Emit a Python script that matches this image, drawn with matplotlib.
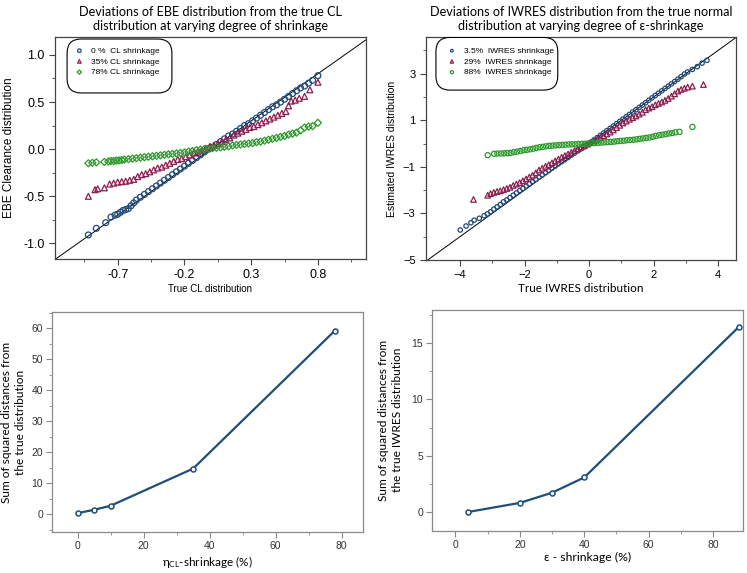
import matplotlib
matplotlib.use("Agg")
import matplotlib.pyplot as plt
from matplotlib.patches import FancyBboxPatch
from matplotlib.ticker import MultipleLocator

plt.rcParams["font.family"] = ["Liberation Sans", "DejaVu Sans"]
plt.rcParams["mathtext.fontset"] = "custom"
plt.rcParams["mathtext.rm"] = "Lato"
plt.rcParams["mathtext.it"] = "Lato:italic"

LABEL_FONT = ["Lato", "DejaVu Sans"]

# --- QQ data: EBE clearance vs true CL distribution ---
cl_labels = ["0 %  CL shrinkage", "35% CL shrinkage", "78% CL shrinkage"]

cl_x_0 = [-0.92, -0.86, -0.79, -0.75, -0.72, -0.70, -0.68, -0.66, -0.64, -0.62, -0.60, -0.58,
          -0.56, -0.53, -0.50, -0.47, -0.44, -0.41, -0.38, -0.35, -0.32, -0.29, -0.26, -0.23,
          -0.20, -0.17, -0.14, -0.11, -0.08, -0.05, -0.02, 0.01, 0.04, 0.07, 0.10, 0.13, 0.16,
          0.19, 0.22, 0.25, 0.28, 0.31, 0.34, 0.37, 0.40, 0.43, 0.46, 0.49, 0.52, 0.55, 0.58,
          0.61, 0.64, 0.67, 0.70, 0.73, 0.76, 0.80]
cl_y_0 = [-0.91, -0.84, -0.78, -0.72, -0.70, -0.69, -0.67, -0.65, -0.64, -0.63, -0.60, -0.57,
          -0.54, -0.51, -0.48, -0.45, -0.42, -0.39, -0.36, -0.33, -0.30, -0.27, -0.24, -0.21,
          -0.18, -0.15, -0.12, -0.09, -0.06, -0.03, 0.00, 0.02, 0.05, 0.08, 0.11, 0.14, 0.16,
          0.19, 0.22, 0.25, 0.27, 0.30, 0.33, 0.36, 0.39, 0.42, 0.45, 0.47, 0.50, 0.53, 0.56,
          0.59, 0.62, 0.65, 0.67, 0.70, 0.73, 0.78]

cl_x_35 = [-0.92, -0.87, -0.85, -0.80, -0.76, -0.73, -0.70, -0.67, -0.64, -0.61, -0.58, -0.55,
           -0.52, -0.49, -0.46, -0.43, -0.40, -0.37, -0.34, -0.31, -0.28, -0.25, -0.22, -0.19,
           -0.16, -0.13, -0.10, -0.07, -0.04, -0.01, 0.02, 0.05, 0.08, 0.11, 0.14, 0.17, 0.20,
           0.23, 0.26, 0.29, 0.32, 0.35, 0.38, 0.41, 0.44, 0.47, 0.50, 0.53, 0.56, 0.58, 0.60,
           0.63, 0.66, 0.70, 0.74, 0.80]
cl_y_35 = [-0.50, -0.43, -0.42, -0.41, -0.37, -0.36, -0.35, -0.345, -0.34, -0.33, -0.32, -0.29,
           -0.27, -0.26, -0.24, -0.22, -0.20, -0.19, -0.17, -0.15, -0.13, -0.11, -0.10, -0.08,
           -0.06, -0.04, -0.03, -0.01, 0.01, 0.03, 0.04, 0.06, 0.08, 0.10, 0.12, 0.15, 0.17,
           0.19, 0.21, 0.23, 0.24, 0.26, 0.28, 0.30, 0.32, 0.34, 0.36, 0.38, 0.40, 0.46, 0.51,
           0.52, 0.54, 0.56, 0.63, 0.71]

cl_x_78 = [-0.92, -0.89, -0.86, -0.80, -0.77, -0.75, -0.73, -0.71, -0.69, -0.67, -0.65, -0.62,
           -0.59, -0.56, -0.53, -0.50, -0.47, -0.44, -0.41, -0.38, -0.35, -0.32, -0.29, -0.26,
           -0.23, -0.20, -0.17, -0.14, -0.11, -0.08, -0.05, -0.02, 0.01, 0.04, 0.07, 0.10, 0.13,
           0.16, 0.19, 0.22, 0.25, 0.28, 0.31, 0.34, 0.37, 0.40, 0.43, 0.46, 0.49, 0.52, 0.55,
           0.58, 0.61, 0.64, 0.67, 0.70, 0.73, 0.76, 0.80]
cl_y_78 = [-0.15, -0.145, -0.14, -0.135, -0.13, -0.125, -0.125, -0.12, -0.12, -0.115, -0.11,
           -0.105, -0.10, -0.095, -0.09, -0.085, -0.08, -0.075, -0.07, -0.065, -0.06, -0.055,
           -0.05, -0.045, -0.04, -0.035, -0.025, -0.02, -0.01, -0.005, 0.0, 0.005, 0.01, 0.015,
           0.02, 0.025, 0.03, 0.04, 0.045, 0.05, 0.055, 0.06, 0.065, 0.075, 0.08, 0.09, 0.10,
           0.11, 0.12, 0.13, 0.14, 0.155, 0.165, 0.175, 0.20, 0.23, 0.24, 0.245, 0.28]

# --- QQ data: IWRES vs true normal distribution ---
iw_labels = ["3.5%  IWRES shrinkage", "29%  IWRES shrinkage", "88%  IWRES shrinkage"]

iw_x_3 = [-3.99, -3.81, -3.66, -3.56, -3.40, -3.25, -3.15, -3.05, -2.95, -2.85, -2.75, -2.65,
          -2.55, -2.45, -2.35, -2.25, -2.15, -2.05, -1.95, -1.85, -1.75, -1.65, -1.55, -1.45,
          -1.35, -1.25, -1.15, -1.05, -0.95, -0.85, -0.75, -0.65, -0.55, -0.45, -0.35, -0.25,
          -0.15, -0.05, 0.05, 0.15, 0.25, 0.35, 0.45, 0.55, 0.65, 0.75, 0.85, 0.95, 1.05, 1.15,
          1.25, 1.35, 1.45, 1.55, 1.65, 1.75, 1.85, 1.95, 2.05, 2.15, 2.25, 2.35, 2.45, 2.55,
          2.65, 2.75, 2.85, 2.95, 3.05, 3.20, 3.35, 3.50, 3.65]
iw_y_3 = [-3.71, -3.54, -3.40, -3.29, -3.21, -3.10, -3.02, -2.93, -2.82, -2.72, -2.62, -2.50,
          -2.42, -2.32, -2.22, -2.12, -2.02, -1.93, -1.83, -1.73, -1.63, -1.54, -1.44, -1.35,
          -1.25, -1.16, -1.06, -0.97, -0.87, -0.78, -0.69, -0.60, -0.50, -0.41, -0.32, -0.23,
          -0.14, -0.04, 0.05, 0.15, 0.25, 0.35, 0.45, 0.55, 0.65, 0.75, 0.85, 0.95, 1.05, 1.15,
          1.25, 1.35, 1.45, 1.55, 1.65, 1.75, 1.86, 1.96, 2.06, 2.16, 2.26, 2.36, 2.46, 2.56,
          2.66, 2.76, 2.87, 2.98, 3.07, 3.18, 3.30, 3.45, 3.57]

iw_x_29 = [-3.58, -3.14, -3.05, -2.95, -2.85, -2.75, -2.65, -2.55, -2.45, -2.35, -2.25, -2.15,
           -2.05, -1.95, -1.85, -1.75, -1.65, -1.55, -1.45, -1.35, -1.25, -1.15, -1.05, -0.95,
           -0.85, -0.75, -0.65, -0.55, -0.45, -0.35, -0.25, -0.15, -0.05, 0.05, 0.15, 0.25,
           0.35, 0.45, 0.55, 0.65, 0.75, 0.85, 0.95, 1.05, 1.15, 1.25, 1.35, 1.45, 1.55, 1.65,
           1.75, 1.85, 1.95, 2.05, 2.15, 2.25, 2.35, 2.45, 2.55, 2.65, 2.75, 2.85, 2.95, 3.05,
           3.20, 3.54]
iw_y_29 = [-2.40, -2.22, -2.15, -2.10, -2.06, -2.03, -1.98, -1.93, -1.88, -1.80, -1.74, -1.68,
           -1.60, -1.52, -1.44, -1.36, -1.26, -1.14, -1.06, -0.98, -0.91, -0.83, -0.75, -0.67,
           -0.59, -0.52, -0.45, -0.38, -0.30, -0.23, -0.16, -0.10, -0.03, 0.04, 0.11, 0.18,
           0.26, 0.33, 0.41, 0.49, 0.58, 0.68, 0.78, 0.88, 0.96, 1.04, 1.11, 1.18, 1.26, 1.34,
           1.45, 1.52, 1.58, 1.66, 1.72, 1.78, 1.85, 1.93, 2.03, 2.13, 2.25, 2.32, 2.37, 2.42,
           2.46, 2.53]

iw_x_88 = [-3.14, -2.94, -2.84, -2.73, -2.63, -2.53, -2.43, -2.33, -2.23, -2.13, -2.03, -1.93,
           -1.83, -1.73, -1.63, -1.53, -1.43, -1.33, -1.23, -1.13, -1.03, -0.93, -0.83, -0.73,
           -0.63, -0.53, -0.43, -0.33, -0.23, -0.13, -0.03, 0.07, 0.17, 0.27, 0.37, 0.47, 0.57,
           0.67, 0.77, 0.87, 0.97, 1.07, 1.17, 1.27, 1.37, 1.47, 1.57, 1.67, 1.77, 1.87, 1.97,
           2.07, 2.17, 2.27, 2.37, 2.47, 2.57, 2.67, 2.80, 3.20]
iw_y_88 = [-0.50, -0.44, -0.43, -0.43, -0.42, -0.41, -0.40, -0.37, -0.35, -0.32, -0.29, -0.27,
           -0.25, -0.22, -0.19, -0.16, -0.14, -0.12, -0.10, -0.09, -0.08, -0.07, -0.06, -0.05,
           -0.04, -0.035, -0.03, -0.02, -0.015, -0.01, 0.0, 0.01, 0.02, 0.03, 0.04, 0.05, 0.06,
           0.07, 0.08, 0.10, 0.11, 0.12, 0.14, 0.15, 0.16, 0.18, 0.20, 0.22, 0.24, 0.26, 0.29,
           0.33, 0.36, 0.38, 0.40, 0.43, 0.45, 0.48, 0.50, 0.71]

# --- Sum of squared distances vs shrinkage ---
eta_shrinkage = [0, 5, 10, 35, 78]
eta_ssd = [0.3, 1.4, 2.7, 14.7, 59.3]

eps_shrinkage = [4, 20, 30, 40, 88]
eps_ssd = [0.05, 0.85, 1.75, 3.1, 16.4]

BLUE = "#1f4a7c"
MAROON = "#8e1d4f"
GREEN = "#2b9a2b"
LINE_BLUE = "#1f4e79"


def style_axis(ax, spine_color, tick_color, labelsize, pad=3.5):
    """
    Common spine / tick styling.
    """
    for s in ax.spines.values():
        s.set_color(spine_color)
        s.set_linewidth(0.9)
    ax.tick_params(which="both", direction="out", color=spine_color,
                   labelcolor=tick_color, labelsize=labelsize, pad=pad)
    ax.tick_params(which="major", length=4)
    ax.tick_params(which="minor", length=2.5)


def rounded_box(ax, x0, y0, w, h):
    """
    Rounded legend frame drawn in axes coords.
    """
    bb = ax.get_position()
    aspect = (bb.width * 747) / (bb.height * 573)
    box = FancyBboxPatch((x0, y0), w, h, boxstyle="round,pad=0,rounding_size=0.045",
                         mutation_aspect=aspect, transform=ax.transAxes,
                         facecolor="white", edgecolor="black", linewidth=0.8, zorder=4)
    ax.add_patch(box)


def qq_panel(ax, series, markers, sizes, labels, lims, box, leg_anchor):
    colors = [BLUE, MAROON, GREEN]
    handles = []
    for (x, y), m, s, c, lab in zip(series, markers, sizes, colors, labels):
        h = ax.scatter(x, y, marker=m, s=s, facecolors="none", edgecolors=c,
                       linewidths=0.9, label=lab, zorder=3)
        handles.append(h)
    ax.plot([-10, 10], [-10, 10], color="black", linewidth=0.7, zorder=2)
    ax.set_xlim(lims[0], lims[1])
    ax.set_ylim(lims[2], lims[3])
    rounded_box(ax, *box)
    leg = ax.legend(handles=handles, loc="upper left", bbox_to_anchor=leg_anchor,
                    frameon=False, fontsize=6, handletextpad=0.9, labelspacing=0.35,
                    handlelength=1.0, borderpad=0, borderaxespad=0, markerscale=0.6)
    leg.set_zorder(5)
    return leg


fig = plt.figure(figsize=(7.47, 5.73), dpi=100)

# --- Top left: EBE clearance QQ ---
ax1 = fig.add_axes([0.0736, 0.548, 0.4163, 0.3874])
qq_panel(ax1, [(cl_x_0, cl_y_0), (cl_x_35, cl_y_35), (cl_x_78, cl_y_78)],
         ["o", "^", "D"], [18, 18, 13], cl_labels, (-1.17, 1.16, -1.165, 1.19),
         (0.039, 0.748, 0.337, 0.243), (0.065, 0.955))
ax1.set_xticks([-0.7, -0.2, 0.3, 0.8])
ax1.set_xticklabels(["-0.7", "-0.2", "0.3", "0.8"])
ax1.set_xticks([-0.95, -0.45, 0.05, 0.55, 1.05], minor=True)
ax1.set_yticks([-1.0, -0.5, 0.0, 0.5, 1.0])
ax1.set_yticklabels(["-1.0", "-0.5", "0.0", "0.5", "1.0"])
ax1.yaxis.set_minor_locator(MultipleLocator(0.25))
style_axis(ax1, "#444444", "black", 9)
ax1.set_xlabel("True CL distribution", fontsize=7, labelpad=2)
ax1.set_ylabel("EBE Clearance distribution", fontsize=8.5, labelpad=6)
ax1.set_title("Deviations of EBE distribution from the true CL\n"
              "distribution at varying degree of shrinkage",
              family=LABEL_FONT, fontsize=9.1, linespacing=1.25, pad=5)

# --- Top right: IWRES QQ ---
ax2 = fig.add_axes([0.5703, 0.5462, 0.415, 0.3892])
qq_panel(ax2, [(iw_x_3, iw_y_3), (iw_x_29, iw_y_29), (iw_x_88, iw_y_88)],
         ["o", "^", "o"], [10, 16, 14], iw_labels, (-5.05, 4.55, -5.0, 4.57),
         (0.032, 0.762, 0.393, 0.236), (0.07, 0.955))
ax2.set_xticks([-4, -2, 0, 2, 4])
ax2.set_xticks([-3, -1, 1, 3], minor=True)
ax2.set_yticks([-5, -3, -1, 1, 3])
ax2.set_yticks([-4, -2, 0, 2, 4], minor=True)
style_axis(ax2, "#444444", "black", 8)
ax2.set_xlabel("True IWRES distribution", family=LABEL_FONT, fontsize=8.5, labelpad=2)
ax2.set_ylabel("Estimated IWRES distribution", fontsize=7.5, labelpad=4)
ax2.set_title("Deviations of IWRES distribution from the true normal\n"
              "distribution at varying degree of \u03b5-shrinkage",
              family=LABEL_FONT, fontsize=9.1, linespacing=1.25, pad=5)

# --- Bottom left: eta shrinkage ---
ax3 = fig.add_axes([0.0696, 0.0715, 0.4163, 0.3840])
ax3.plot(eta_shrinkage, eta_ssd, color=LINE_BLUE, linewidth=1.6, marker="o",
         markersize=3.6, markerfacecolor="white", markeredgecolor=LINE_BLUE,
         markeredgewidth=1.1)
ax3.set_xlim(-7.8, 86.5)
ax3.set_ylim(-5.8, 65.3)
ax3.set_xticks([0, 20, 40, 60, 80])
ax3.xaxis.set_minor_locator(MultipleLocator(10))
ax3.set_yticks([0, 10, 20, 30, 40, 50, 60])
ax3.yaxis.set_minor_locator(MultipleLocator(5))
style_axis(ax3, "#8a8a8a", "#333333", 7.5, pad=2.5)
ax3.set_xlabel("\u03b7$_{\\mathrm{CL}}$-shrinkage (%)", family=LABEL_FONT, fontsize=8.5,
               labelpad=2)
ax3.set_ylabel("Sum of squared distances from\nthe true distribution",
               family=LABEL_FONT, fontsize=8.6, labelpad=4, linespacing=1.3)

# --- Bottom right: epsilon shrinkage ---
ax4 = fig.add_axes([0.5783, 0.0740, 0.4163, 0.3850])
ax4.plot(eps_shrinkage, eps_ssd, color=LINE_BLUE, linewidth=1.6, marker="o",
         markersize=3.6, markerfacecolor="white", markeredgecolor=LINE_BLUE,
         markeredgewidth=1.1)
ax4.set_xlim(-7.3, 89.3)
ax4.set_ylim(-1.6, 17.9)
ax4.set_xticks([0, 20, 40, 60, 80])
ax4.xaxis.set_minor_locator(MultipleLocator(10))
ax4.set_yticks([0, 5, 10, 15])
ax4.yaxis.set_minor_locator(MultipleLocator(2.5))
style_axis(ax4, "#8a8a8a", "#333333", 7.5, pad=2.5)
ax4.set_xlabel("\u03b5 - shrinkage (%)", family=LABEL_FONT, fontsize=8.8, labelpad=2)
ax4.set_ylabel("Sum of squared distances from\nthe true IWRES distribution",
               family=LABEL_FONT, fontsize=8.6, labelpad=6, linespacing=1.3)

plt.savefig("out.png", dpi=100)
plt.close()
